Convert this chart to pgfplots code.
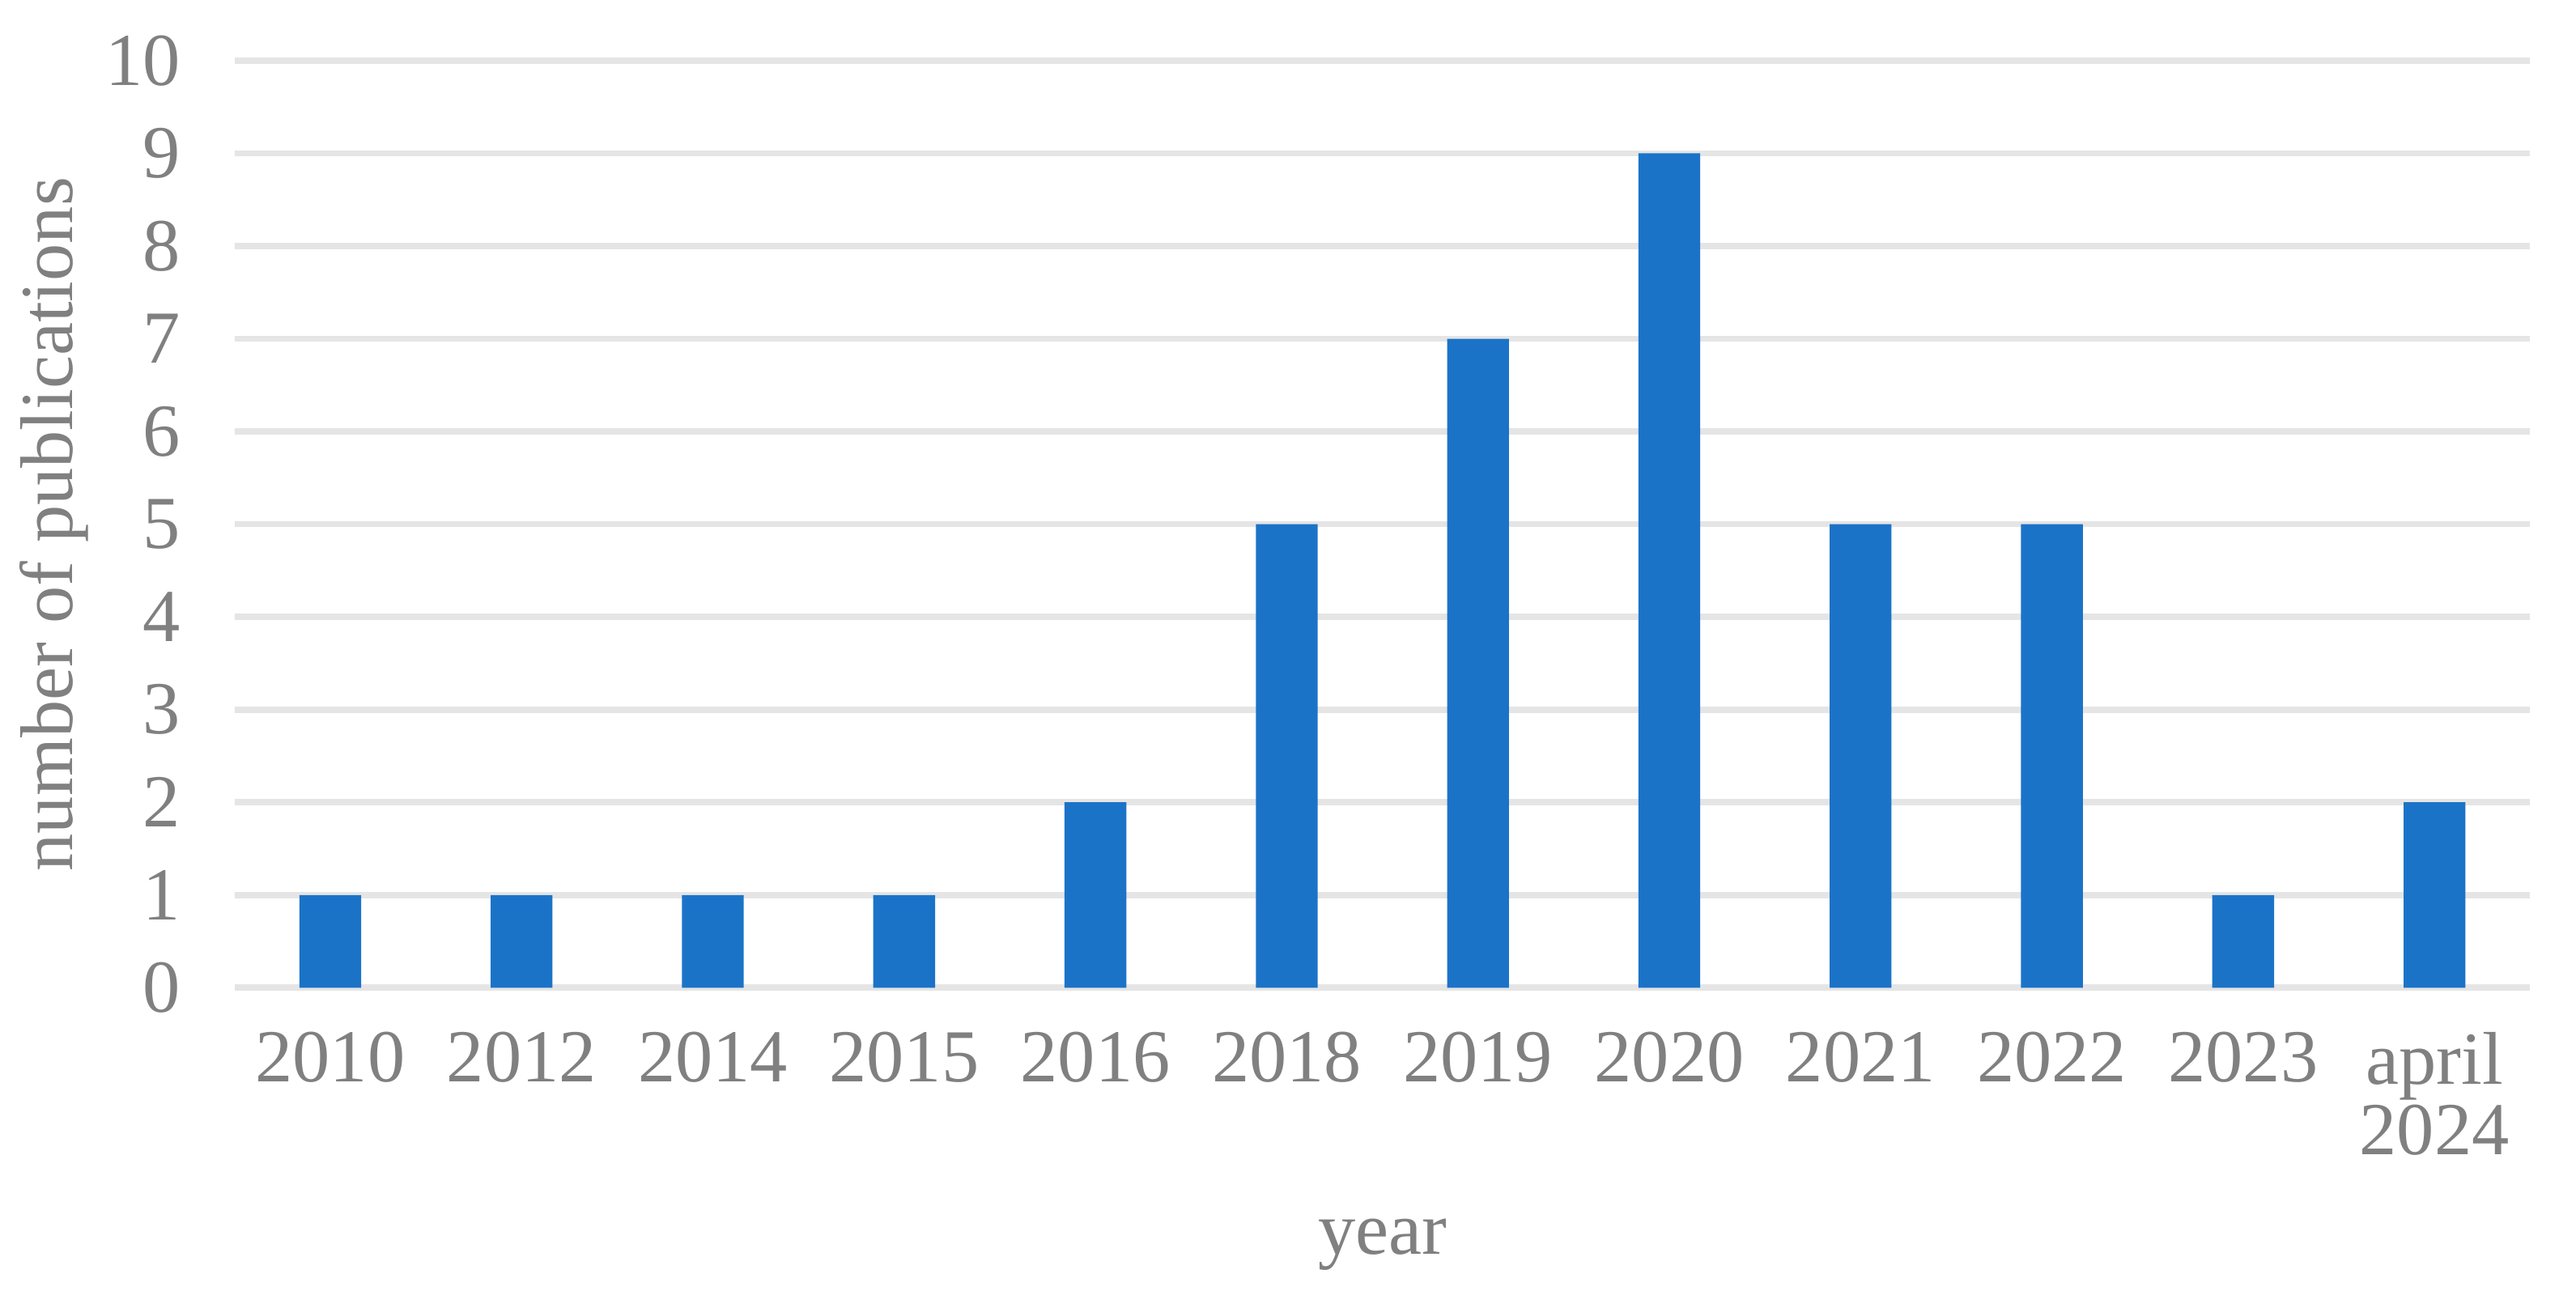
\documentclass[border=0pt]{standalone}
\usepackage{fontspec}
\setmainfont{Liberation Serif}
\usepackage{pgfplots}
\pgfplotsset{compat=1.18}
\definecolor{barblue}{RGB}{27,115,200}
\definecolor{txtgray}{RGB}{128,128,128}
\definecolor{gridgray}{RGB}{229,229,229}

\begin{document}
\begin{tikzpicture}
  \path[use as bounding box] (-41.4pt,-56.4pt) rectangle (413.1pt,174.3pt);
  \begin{axis}[
      scale only axis,
      width=405pt, height=163.6pt,
      xmin=-0.5, xmax=11.5,
      ymin=0, ymax=10,
      ybar, bar width=10.9pt,
      xtick=data,
      xticklabels={2010,2012,2014,2015,2016,2018,2019,2020,2021,2022,2023,{april\\2024}},
      ytick={0,1,...,10},
      ymajorgrids,
      grid style={gridgray, line width=1.1pt},
      axis line style={draw=none},
      major tick length=0pt,
      tick style={draw=none},
      font=\fontsize{13.2}{12.5}\selectfont,
      /pgf/number format/assume math mode=true,
      ticklabel style={text=txtgray},
      xticklabel style={align=center, yshift=-4.3pt},
      yticklabel style={xshift=-6pt},
      xlabel={year},
      ylabel={number of publications},
      label style={text=txtgray},
      xlabel style={at={(axis description cs:0.5,-0.277)}, anchor=center},
      ylabel style={at={(axis description cs:-0.0785,0.5)}, anchor=center, rotate=0},
    ]
    \addplot[fill=barblue, draw=none] coordinates {
      (0,1) (1,1) (2,1) (3,1) (4,2) (5,5) (6,7) (7,9) (8,5) (9,5) (10,1) (11,2)
    };
  \end{axis}
\end{tikzpicture}
\end{document}
